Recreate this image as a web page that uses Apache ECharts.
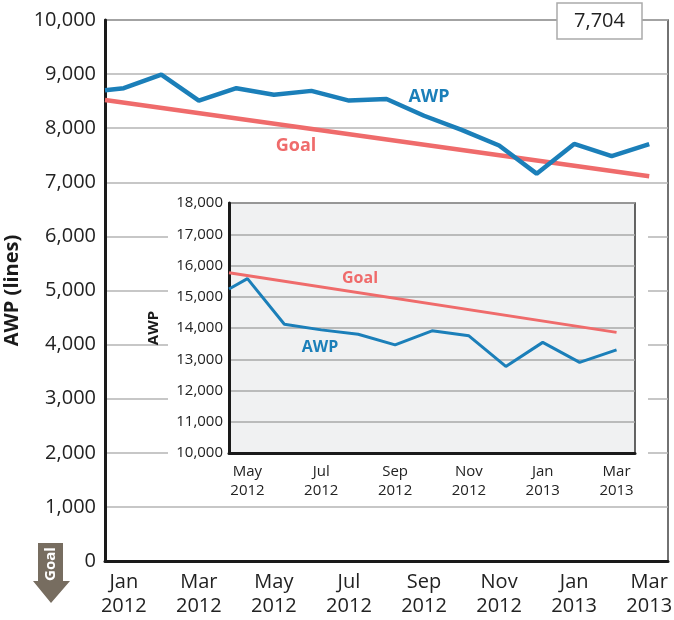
<!DOCTYPE html>
<html>
<head>
<meta charset="utf-8">
<title>AWP</title>
<script src="https://cdn.jsdelivr.net/npm/echarts@6.0.0/dist/echarts.min.js"></script>
<style>
  html, body { margin: 0; padding: 0; background: #fff; }
  #chart { width: 674px; height: 620px; }
</style>
</head>
<body>
<div id="chart"></div>
<script>
// 主图：2012年1月 - 2013年3月
const mainMonths = ['Jan\n2012', 'Feb\n2012', 'Mar\n2012', 'Apr\n2012', 'May\n2012', 'Jun\n2012', 'Jul\n2012',
  'Aug\n2012', 'Sep\n2012', 'Oct\n2012', 'Nov\n2012', 'Dec\n2012', 'Jan\n2013', 'Feb\n2013', 'Mar\n2013'];
const awpMainStart = 8700;   // 左边缘起点
const awpMain = [8740, 8990, 8510, 8740, 8620, 8690, 8510, 8540, 8230, 7970, 7680, 7160, 7710, 7485, 7704];
const goalMain = [8520, 7110]; // 起点, 终点（直线）
const mainTicks = [0, 1000, 2000, 3000, 4000, 5000, 6000, 7000, 8000, 9000, 10000];

// 小图：2012年5月 - 2013年3月
const insetMonths = ['May\n2012', 'Jun\n2012', 'Jul\n2012', 'Aug\n2012', 'Sep\n2012', 'Oct\n2012',
  'Nov\n2012', 'Dec\n2012', 'Jan\n2013', 'Feb\n2013', 'Mar\n2013'];
const awpInsetStart = 15250;
const awpInset = [15580, 14120, 13940, 13800, 13460, 13910, 13750, 12770, 13540, 12900, 13300];
const goalInset = [15770, 13860];
const insetTicks = [10000, 11000, 12000, 13000, 14000, 15000, 16000, 17000, 18000];

const BLUE = '#1b7fb9';
const RED = '#ef6b6b';
const FONT = 'Open Sans';

// 把类目放到带的中间：x = i + 0.5
function toPoints(start, vals) {
  const pts = [[0, start]];
  vals.forEach((v, i) => pts.push([i + 0.5, v]));
  return pts;
}
function goalPoints(g, n) {
  return [[0, g[0]], [n - 0.5, g[1]]];
}
const fmt = v => v.toLocaleString('en-US');

const chart = echarts.init(document.getElementById('chart'));

chart.setOption({
  animation: false,
  textStyle: { fontFamily: FONT },
  grid: [
    {
      left: 105, right: 6, top: 20, bottom: 59,
      containLabel: false, outerBoundsMode: 'none',
      show: true, borderColor: '#444', borderWidth: 1.5, backgroundColor: '#fff'
    },
    {
      left: 229, right: 39, top: 203, bottom: 167,
      containLabel: false, outerBoundsMode: 'none',
      show: true, borderColor: '#333', borderWidth: 1.5, backgroundColor: '#f0f1f2', z: 3
    }
  ],
  xAxis: [
    {
      type: 'category', gridIndex: 0, data: mainMonths, boundaryGap: true,
      axisLine: { lineStyle: { color: '#1a1a1a', width: 3 } },
      axisTick: { inside: true, length: 12, interval: 0, lineStyle: { color: '#222', width: 1.5 } },
      axisLabel: { interval: 1, color: '#222', fontSize: 20, lineHeight: 24, margin: 9, fontFamily: FONT }
    },
    { type: 'value', gridIndex: 0, min: 0, max: mainMonths.length, show: false },
    {
      type: 'category', gridIndex: 1, data: insetMonths, boundaryGap: true, z: 4,
      axisLine: { lineStyle: { color: '#1a1a1a', width: 3 } },
      axisTick: { inside: true, length: 8, interval: 0, lineStyle: { color: '#222', width: 1.5 } },
      axisLabel: { interval: 1, color: '#222', fontSize: 15, lineHeight: 19, margin: 9, fontFamily: FONT }
    },
    { type: 'value', gridIndex: 1, min: 0, max: insetMonths.length, show: false }
  ],
  yAxis: [
    {
      type: 'value', gridIndex: 0, min: mainTicks[0], max: mainTicks[mainTicks.length - 1], interval: 1000,
      name: 'AWP (lines)', nameLocation: 'middle', nameGap: 82,
      nameTextStyle: { fontSize: 20, fontWeight: 'bold', color: '#1a1a1a', fontFamily: FONT },
      axisLine: { show: true, lineStyle: { color: '#1a1a1a', width: 3 } },
      axisTick: { show: false },
      axisLabel: { formatter: fmt, color: '#222', fontSize: 20, margin: 9, fontFamily: FONT },
      splitLine: { lineStyle: { color: '#b4b4b4', width: 1.5 } }
    },
    {
      type: 'value', gridIndex: 1, min: insetTicks[0], max: insetTicks[insetTicks.length - 1], interval: 1000, z: 4,
      name: 'AWP', nameLocation: 'middle', nameGap: 68,
      nameTextStyle: { fontSize: 15, fontWeight: 'bold', color: '#1a1a1a', fontFamily: FONT },
      axisLine: { show: true, lineStyle: { color: '#1a1a1a', width: 3 } },
      axisTick: { show: false },
      axisLabel: { formatter: fmt, color: '#222', fontSize: 15, margin: 6, fontFamily: FONT },
      splitLine: { lineStyle: { color: '#a8a8a8', width: 1.5 } }
    }
  ],
  series: [
    {
      name: 'Goal', type: 'line', xAxisIndex: 1, yAxisIndex: 0,
      data: goalPoints(goalMain, mainMonths.length),
      symbol: 'none', lineStyle: { color: RED, width: 4.5 }, z: 2
    },
    {
      name: 'AWP', type: 'line', xAxisIndex: 1, yAxisIndex: 0,
      data: toPoints(awpMainStart, awpMain),
      symbol: 'none', lineStyle: { color: BLUE, width: 4.5 }, z: 3
    },
    {
      name: 'Goal inset', type: 'line', xAxisIndex: 3, yAxisIndex: 1,
      data: goalPoints(goalInset, insetMonths.length),
      symbol: 'none', lineStyle: { color: RED, width: 3 }, z: 5
    },
    {
      name: 'AWP inset', type: 'line', xAxisIndex: 3, yAxisIndex: 1,
      data: toPoints(awpInsetStart, awpInset),
      symbol: 'none', lineStyle: { color: BLUE, width: 3 }, z: 6
    }
  ],
  graphic: [
    // 小图后面的白底
    { type: 'rect', z: 1, shape: { x: 168, y: 190, width: 480, height: 312 }, style: { fill: '#fff' }, silent: true },
    // 右上角的当前值
    { type: 'rect', z: 10, shape: { x: 557, y: 3, width: 85, height: 36 }, style: { fill: '#fff', stroke: '#aaa', lineWidth: 1.5 } },
    {
      type: 'text', z: 11, x: 599.5, y: 21,
      style: { text: fmt(awpMain[awpMain.length - 1]), fontSize: 20, fontFamily: FONT, fill: '#222', align: 'center', verticalAlign: 'middle' }
    },
    // 线的标签
    { type: 'text', z: 11, x: 429, y: 97, style: { text: 'AWP', fontSize: 18, fontWeight: 'bold', fontFamily: FONT, fill: BLUE, align: 'center', verticalAlign: 'middle' } },
    { type: 'text', z: 11, x: 296, y: 146, style: { text: 'Goal', fontSize: 18, fontWeight: 'bold', fontFamily: FONT, fill: RED, align: 'center', verticalAlign: 'middle' } },
    { type: 'text', z: 11, x: 360, y: 278, style: { text: 'Goal', fontSize: 16, fontWeight: 'bold', fontFamily: FONT, fill: RED, align: 'center', verticalAlign: 'middle' } },
    { type: 'text', z: 11, x: 320, y: 347, style: { text: 'AWP', fontSize: 16, fontWeight: 'bold', fontFamily: FONT, fill: BLUE, align: 'center', verticalAlign: 'middle' } },
    // 左下角 Goal 向下箭头
    {
      type: 'polygon', z: 10,
      shape: { points: [[38, 543], [63, 543], [63, 581], [70, 581], [51, 603], [33, 581], [38, 581]] },
      style: { fill: '#776d60' }
    },
    {
      type: 'text', z: 11, x: 51, y: 564, rotation: Math.PI / 2,
      style: { text: 'Goal', fontSize: 15, fontWeight: 'bold', fontFamily: FONT, fill: '#fff', align: 'center', verticalAlign: 'middle' }
    }
  ]
});
</script>
</body>
</html>
